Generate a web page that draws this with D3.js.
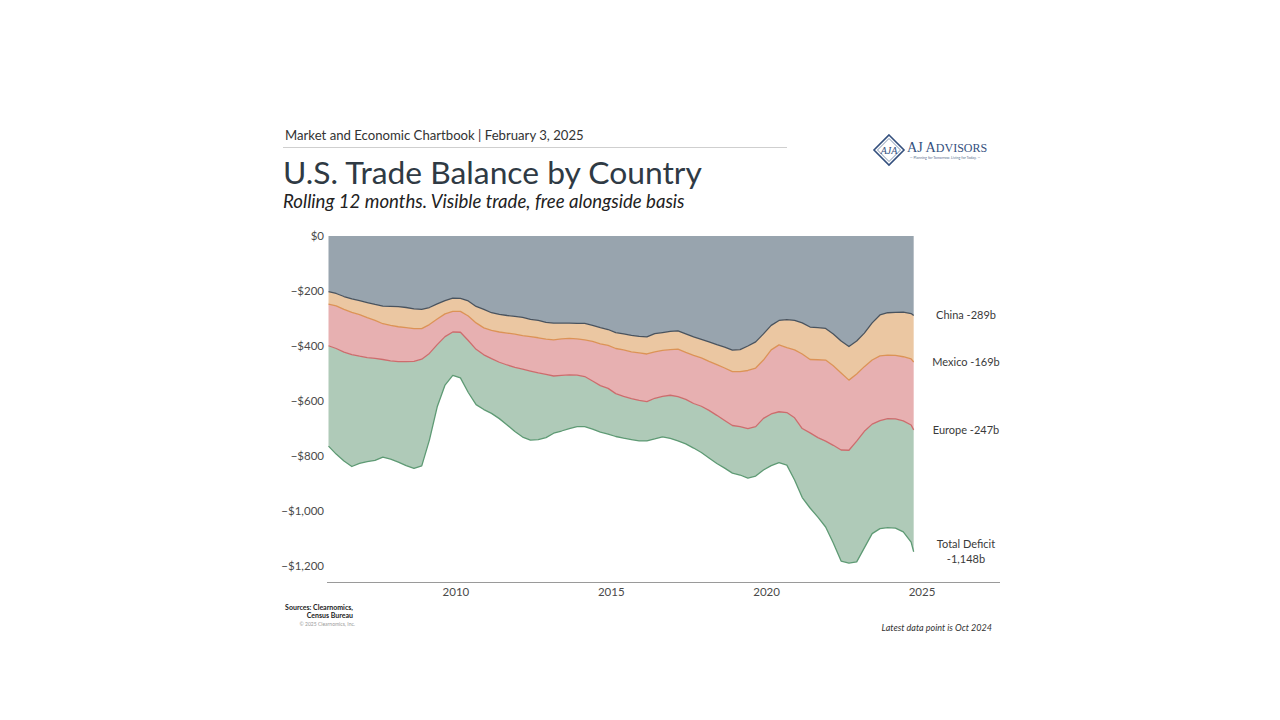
<!DOCTYPE html>
<html><head><meta charset="utf-8">
<script src="https://cdn.jsdelivr.net/npm/d3@7"></script>
<style>
html,body{margin:0;padding:0;background:#fff;}
svg{display:block;font-family:Lato,"Open Sans",sans-serif;}
</style></head><body>
<svg id="chart" width="1280" height="720"></svg>
<script>
// ---- data (US$ billions, rolling 12 months, trade balance) ----
const dates = ["2005-12",
 "2006-03","2006-06","2006-09","2006-12","2007-03","2007-06","2007-09","2007-12",
 "2008-03","2008-06","2008-09","2008-12","2009-03","2009-06","2009-09","2009-12",
 "2010-03","2010-06","2010-09","2010-12","2011-03","2011-06","2011-09","2011-12",
 "2012-03","2012-06","2012-09","2012-12","2013-03","2013-06","2013-09","2013-12",
 "2014-03","2014-06","2014-09","2014-12","2015-03","2015-06","2015-09","2015-12",
 "2016-03","2016-06","2016-09","2016-12","2017-03","2017-06","2017-09","2017-12",
 "2018-03","2018-06","2018-09","2018-12","2019-03","2019-06","2019-09","2019-12",
 "2020-03","2020-06","2020-09","2020-12","2021-03","2021-06","2021-09","2021-12",
 "2022-03","2022-06","2022-09","2022-12","2023-03","2023-06","2023-09","2023-12",
 "2024-03","2024-06","2024-09","2024-10"];
const china = [-202,-209,-220,-229,-235,-242,-249,-255,-256,-257,-260,-265,-267,-260,-247,-235,-226,-227,-236,-256,-267,-279,-285,-289,-292,-296,-303,-307,-314,-317,-317,-317,-318,-318,-325,-333,-340,-351,-356,-361,-365,-367,-355,-351,-347,-345,-356,-367,-376,-385,-395,-404,-415,-413,-400,-385,-356,-325,-307,-304,-307,-316,-331,-333,-336,-356,-382,-402,-382,-353,-316,-287,-279,-278,-277,-282,-289];
const mexico = [-46,-45,-47,-49,-51,-55,-58,-64,-69,-73,-73,-72,-70,-62,-55,-48,-48,-47,-55,-60,-67,-64,-64,-64,-65,-66,-63,-63,-61,-61,-57,-55,-56,-60,-58,-59,-58,-58,-58,-60,-60,-62,-66,-65,-66,-66,-67,-67,-67,-71,-73,-76,-78,-80,-89,-95,-95,-89,-89,-102,-107,-113,-118,-117,-115,-116,-116,-122,-120,-122,-135,-149,-154,-156,-162,-165,-169];
const europe = [-151,-155,-155,-153,-151,-145,-138,-130,-129,-127,-124,-119,-111,-105,-93,-83,-75,-76,-89,-96,-98,-103,-110,-116,-121,-122,-125,-128,-128,-131,-133,-133,-132,-133,-144,-152,-156,-164,-169,-170,-173,-173,-169,-167,-166,-173,-171,-175,-176,-178,-184,-191,-196,-200,-211,-213,-212,-233,-243,-236,-247,-271,-267,-283,-295,-289,-280,-255,-244,-235,-233,-235,-231,-231,-233,-240,-247];
const total = [-764,-793,-818,-838,-827,-820,-816,-804,-811,-822,-835,-845,-836,-742,-621,-542,-507,-516,-569,-613,-631,-645,-664,-687,-711,-731,-742,-740,-733,-717,-709,-700,-693,-693,-702,-713,-720,-729,-735,-740,-745,-745,-738,-730,-736,-745,-756,-771,-787,-807,-827,-844,-862,-869,-880,-873,-851,-835,-824,-833,-887,-951,-989,-1022,-1058,-1116,-1182,-1189,-1185,-1134,-1082,-1064,-1060,-1062,-1076,-1113,-1148];
const yTicks = [0,-200,-400,-600,-800,-1000,-1200];
const xTickYears = [2010,2015,2020,2025];
const seriesKeys = ["china","mexico","europe","rest"];
const endLabels = [["China -289b"],["Mexico -169b"],["Europe -247b"],["Total Deficit","-1,148b"]];

// ---- styles ----
const fills = {china:"#98a4ae", mexico:"#ebc7a2", europe:"#e7b0b1", rest:"#afcab8"};
const strokes = {china:"#49535e", mexico:"#dc9356", europe:"#cd6c6d", rest:"#5e9a74"};

const svg = d3.select("#chart");
const parse = d3.timeParse("%Y-%m");

const rows = dates.map((d,i)=>({
  date: parse(d),
  china: china[i], mexico: mexico[i], europe: europe[i],
  rest: total[i]-china[i]-mexico[i]-europe[i]
}));

const x = d3.scaleTime().domain([new Date(2005,11,1), new Date(2025,0,1)]).range([328.5, 921.5]);
const y = d3.scaleLinear().domain([0,-1258]).range([236, 582]);

const stacked = d3.stack().keys(seriesKeys).offset(d3.stackOffsetDiverging)(rows);

const area = d3.area().x(d=>x(d.data.date)).y0(d=>y(d[0])).y1(d=>y(d[1]));
const lowerLine = d3.line().x(d=>x(d.data.date)).y(d=>y(d[0]));

const plot = svg.append("g");
plot.selectAll("path.area").data(stacked).join("path")
  .attr("class","area").attr("d",area).attr("fill",s=>fills[s.key]);
plot.selectAll("path.edge").data(stacked).join("path")
  .attr("class","edge").attr("d",lowerLine).attr("fill","none")
  .attr("stroke",s=>strokes[s.key]).attr("stroke-width",1.3).attr("stroke-linejoin","round");

// y axis
const yAxis = svg.append("g").attr("transform","translate(327,0)")
  .call(d3.axisLeft(y).tickValues(yTicks).tickSize(0).tickPadding(3)
    .tickFormat(d => d===0 ? "$0" : "\u2212$" + d3.format(",")(-d)));
yAxis.select(".domain").remove();
yAxis.selectAll("text").attr("font-family","Lato").attr("font-size",11.5).attr("fill","#4a4a4a");

// x axis
svg.append("line").attr("x1",327).attr("x2",1000).attr("y1",582.5).attr("y2",582.5)
  .attr("stroke","#9a9a9a").attr("stroke-width",1.2);
const xAxis = svg.append("g").attr("transform","translate(0,582)")
  .call(d3.axisBottom(x).tickValues(xTickYears.map(yr=>new Date(yr,0,1)))
    .tickFormat(d3.timeFormat("%Y")).tickSize(0).tickPadding(6));
xAxis.select(".domain").remove();
xAxis.selectAll("text").attr("font-family","Lato").attr("font-size",11.5).attr("fill","#4a4a4a");

// end labels
const last = stacked.map(s=>s[s.length-1][0]);
endLabels.forEach((lines,i)=>{
  const cy = y(last[i]);
  const t = svg.append("text").attr("x",966).attr("text-anchor","middle")
    .attr("font-size",11).attr("fill","#3a3a3a");
  const off = (lines.length-1)*15/2;
  lines.forEach((ln,j)=>{
    t.append("tspan").attr("x",966).attr("y",cy - off + j*15).attr("dy","0.35em").text(ln);
  });
});

// header
function fit(sel, w){
  const n = sel.node(); const fs = parseFloat(sel.attr("font-size"));
  const l = n.getComputedTextLength(); if(l>0) sel.attr("font-size", fs*w/l);
}
const h1 = svg.append("text").attr("x",285).attr("y",140).attr("font-size",14)
  .attr("fill","#333").text("Market and Economic Chartbook | February 3, 2025");
fit(h1, 299);
svg.append("line").attr("x1",283).attr("x2",787).attr("y1",147.5).attr("y2",147.5)
  .attr("stroke","#cfcfcf").attr("stroke-width",1);
const h2 = svg.append("text").attr("x",283).attr("y",184).attr("font-size",31)
  .attr("fill","#2f3a44").text("U.S. Trade Balance by Country");
fit(h2, 419);
const h3 = svg.append("text").attr("x",283).attr("y",207.5).attr("font-size",18)
  .attr("font-style","italic").attr("fill","#222").text("Rolling 12 months. Visible trade, free alongside basis");
fit(h3, 402);

// logo
const logo = svg.append("g").attr("fill","#34507e");
logo.append("path").attr("d","M889,135 L904,150 L889,165 L874,150 Z")
  .attr("fill","none").attr("stroke","#34507e").attr("stroke-width",1.6);
logo.append("path").attr("d","M889,138.5 L900.5,150 L889,161.5 L877.5,150 Z")
  .attr("fill","none").attr("stroke","#34507e").attr("stroke-width",0.6);
logo.append("text").attr("x",889).attr("y",153.5).attr("text-anchor","middle")
  .attr("font-family","Liberation Serif").attr("font-style","italic").attr("font-size",10)
  .text("AJA");
const lt = logo.append("text").attr("x",907).attr("y",151.5)
  .attr("font-family","Liberation Serif").attr("font-size",15.5);
lt.append("tspan").text("AJ A");
lt.append("tspan").attr("font-size",12).text("DVISORS");
fit(lt, 76);
logo.append("text").attr("x",945).attr("y",158.5).attr("text-anchor","middle")
  .attr("font-family","Lato").attr("font-size",3.6).attr("fill","#5a6f90")
  .text("\u2014 Planning for Tomorrow. Living for Today. \u2014");

// footer
const src = svg.append("g").attr("text-anchor","end").attr("font-family","Lato");
src.append("text").attr("x",353).attr("y",610).attr("font-size",7).attr("font-weight",700).attr("fill","#222").text("Sources: Clearnomics,");
src.append("text").attr("x",353).attr("y",618).attr("font-size",7).attr("font-weight",700).attr("fill","#222").text("Census Bureau");
src.append("text").attr("x",355).attr("y",626).attr("font-size",5).attr("fill","#999").text("\u00a9 2025 Clearnomics, Inc.");
svg.append("text").attr("x",992).attr("y",631).attr("text-anchor","end").attr("font-size",9)
  .attr("font-style","italic").attr("fill","#333").text("Latest data point is Oct 2024");
</script>
</body></html>
